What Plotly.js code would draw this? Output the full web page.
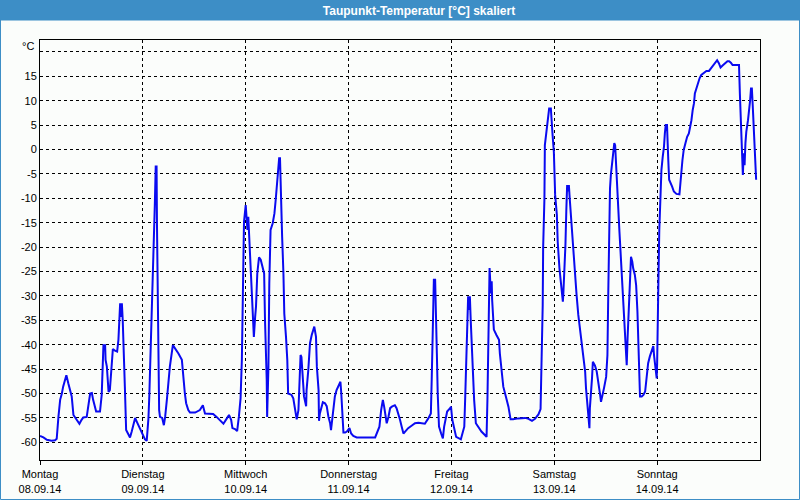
<!DOCTYPE html>
<html>
<head>
<meta charset="utf-8">
<script src="https://cdn.plot.ly/plotly-3.0.1.min.js"></script>
<style>
html,body{margin:0;padding:0;background:#fbfdfb;}
#chart{width:800px;height:500px;}
</style>
</head>
<body>
<div id="chart"></div>
<script>
// hours since Monday 08.09.14 00:00
var hours = [
0,0.8,1.6,2.7,3.5,3.9,4.3,4.7,5.1,5.4,
6.1,6.2,6.6,7.0,7.4,7.8,8.6,9.2,9.7,10.1,
10.9,11.3,11.7,12.1,12.4,13.1,14.0,14.4,14.5,14.8,
15.2,15.3,15.6,15.8,16.0,16.3,16.6,17.0,17.5,18.0,
18.3,18.5,18.7,18.9,19.1,19.3,19.4,19.8,20.1,20.6,
21.0,21.4,21.8,22.2,22.6,23.3,24.0,24.5,24.9,25.3,
25.5,25.8,26.1,26.4,26.7,26.8,27.0,27.2,27.3,27.5,
27.6,27.8,28.0,28.5,28.9,29.2,29.6,29.9,30.3,31.0,
31.5,32.3,33.1,33.4,33.8,34.1,34.6,35.0,36.2,37.3,
38.0,38.5,40.4,41.2,42.0,42.8,43.6,44.1,44.6,44.9,
45.5,46.0,46.4,46.8,47.1,47.3,47.4,47.6,48.0,48.2,
48.4,48.6,48.9,49.2,49.4,49.6,49.9,50.2,50.4,50.7,
51.1,51.5,51.9,52.3,52.5,52.7,52.9,53.0,53.3,53.5,
53.8,54.3,54.7,55.0,55.2,55.4,55.6,55.8,56.0,56.2,
56.5,56.8,57.0,57.4,57.7,57.9,58.7,59.1,59.5,59.9,
60.3,60.5,60.8,61.0,61.3,61.6,62.1,62.2,62.6,63.0,
63.4,63.8,64.0,64.4,64.6,65.0,65.1,65.3,65.7,66.0,
66.5,66.9,67.3,67.7,67.9,68.2,68.4,68.8,69.2,69.8,
70.1,70.3,70.5,70.8,71.2,71.6,72.2,72.6,73.1,73.9,
78.2,78.6,79.2,79.6,80.0,80.3,80.5,80.9,81.3,81.7,
82.1,82.8,83.2,83.6,84.0,84.4,84.8,85.2,85.9,86.7,
87.5,88.3,89.8,90.6,91.2,91.4,91.6,91.8,91.9,92.2,
92.3,92.6,92.8,93.1,93.6,94.0,94.3,94.7,95.0,95.7,
95.9,96.2,96.6,97.1,98.2,98.5,99.0,99.2,99.4,99.7,
99.9,100.1,100.3,100.5,100.7,101.1,101.3,101.7,102.2,103.0,
103.8,104.2,104.4,104.6,104.8,104.9,105.2,105.4,105.5,105.9,
106.5,107.1,107.3,107.7,108.1,108.7,109.3,109.8,110.4,111.6,
112.8,113.2,114.0,114.8,115.5,116.3,116.8,117.1,117.3,117.4,
117.7,117.8,118.2,118.6,118.8,119.2,119.4,119.6,119.9,120.2,
120.6,120.8,121.2,121.5,121.7,122.0,122.1,122.4,122.6,122.8,
123.0,123.2,123.4,123.6,123.8,124.1,124.4,124.8,125.2,125.6,
126.0,126.4,126.8,127.2,127.4,127.7,127.9,128.2,128.3,128.6,
128.8,129.0,129.5,129.9,130.3,130.7,130.9,131.3,131.6,132.1,
132.4,132.6,132.8,133.0,133.2,133.5,133.8,134.0,134.2,134.4,
134.7,134.9,135.2,135.5,135.7,136.0,136.3,136.5,136.7,136.9,
137.1,137.4,137.7,137.9,138.2,138.4,138.8,139.1,139.4,139.6,
139.8,140.0,140.4,140.8,141.2,141.6,141.9,142.3,142.7,143.1,
143.3,143.6,143.9,144.0,144.2,144.3,144.5,144.7,144.8,145.0,
145.3,145.6,145.8,146.0,146.3,146.4,146.6,146.8,147.2,147.5,
147.9,148.5,149.2,149.5,149.7,149.9,150.2,150.6,151.0,151.4,
151.8,152.0,152.3,152.6,152.8,153.1,153.6,153.9,154.3,154.9,
155.5,156.1,156.7,157.2,158.0,158.4,158.8,159.4,159.8,160.4,
160.8,161.2,161.6,162.6,163.1,163.3,163.5,163.7,164.0,164.2,
164.4,164.6,164.8,165.2,165.5,165.7,165.9,166.1,166.3,166.5,
166.7,167.0,167.1
];

// Taupunkt-Temperatur [°C] skaliert
var dewpoint = [
-58.7,-59.0,-59.5,-59.7,-59.6,-59.3,-54.8,-51.3,-50.0,-48.6,
-46.4,-46.4,-47.9,-49.3,-50.6,-54.4,-55.4,-56.2,-55.4,-54.9,
-54.8,-52.7,-50.0,-49.9,-51.3,-53.7,-53.7,-50.3,-46.9,-40.1,
-40.1,-43.1,-44.5,-47.2,-49.7,-49.3,-45.9,-40.9,-41.2,-41.4,
-39.0,-36.3,-31.5,-34.3,-31.5,-34.9,-39.0,-48.6,-57.5,-58.5,
-59.0,-57.8,-56.1,-55.0,-55.8,-57.1,-58.5,-59.4,-59.7,-55.1,
-50.6,-41.8,-34.3,-26.1,-18.5,-11.0,-3.5,-3.5,-15.8,-28.1,
-41.1,-53.4,-54.8,-55.0,-56.5,-54.8,-51.3,-47.9,-44.5,-40.1,
-40.7,-41.8,-43.1,-46.6,-50.0,-52.0,-53.4,-53.9,-53.9,-53.4,
-52.4,-54.1,-54.2,-54.8,-55.4,-56.2,-55.1,-54.4,-55.4,-57.1,
-57.3,-57.7,-54.8,-51.0,-43.1,-27.4,-20.6,-14.8,-11.4,-14.1,
-16.5,-13.8,-19.9,-22.6,-29.5,-34.3,-38.4,-34.3,-32.2,-25.4,
-22.1,-22.6,-24.0,-25.4,-34.9,-39.7,-47.2,-54.8,-44.5,-27.4,
-16.5,-15.1,-13.1,-10.3,-8.3,-6.2,-3.5,-1.8,-1.8,-9.7,
-17.9,-25.4,-33.6,-38.4,-43.1,-50.0,-50.3,-51.0,-53.0,-55.3,
-53.4,-48.6,-42.1,-42.5,-46.6,-50.6,-52.6,-49.3,-45.2,-39.7,
-38.0,-36.6,-36.3,-38.4,-44.5,-49.3,-55.6,-54.1,-52.7,-51.8,
-52.0,-52.6,-54.8,-56.1,-57.5,-55.4,-53.4,-50.6,-49.3,-47.9,
-47.6,-50.0,-54.1,-58.0,-58.0,-57.8,-57.1,-58.2,-58.7,-59.0,
-59.0,-58.2,-56.8,-53.4,-51.3,-52.7,-54.1,-56.1,-54.8,-53.0,
-52.7,-52.4,-53.0,-54.1,-55.4,-56.8,-58.2,-57.8,-57.1,-56.6,
-56.1,-56.0,-56.2,-55.1,-54.1,-47.2,-40.1,-33.2,-26.7,-26.7,
-32.9,-41.8,-50.0,-56.8,-58.2,-59.2,-56.8,-54.8,-53.7,-53.0,
-52.7,-55.4,-56.8,-58.9,-59.4,-58.2,-56.8,-51.3,-45.2,-38.4,
-30.1,-32.9,-30.1,-34.9,-39.7,-46.6,-51.3,-56.1,-56.8,-57.8,
-58.5,-58.9,-51.3,-41.8,-32.9,-24.3,-29.5,-27.0,-30.8,-36.9,
-38.0,-39.0,-41.8,-45.2,-48.6,-50.6,-52.7,-55.3,-55.3,-55.1,
-55.0,-55.0,-55.2,-55.6,-55.2,-54.3,-53.2,-42.8,-31.9,-20.2,
-10.0,0.9,4.3,6.4,8.4,8.4,6.4,3.0,-0.5,-9.3,
-13.4,-18.9,-24.3,-27.1,-29.1,-31.2,-29.8,-25.0,-19.6,-12.7,
-7.3,-8.6,-7.3,-10.0,-12.7,-16.8,-20.2,-25.0,-29.8,-33.9,
-36.6,-40.1,-42.8,-45.5,-48.9,-51.7,-54.8,-57.1,-53.0,-50.3,
-46.9,-43.5,-44.3,-45.5,-47.6,-50.3,-51.7,-50.3,-48.9,-46.6,
-42.1,-29.1,-17.5,-8.0,-5.2,-2.5,-1.1,1.3,0.9,-3.2,
-8.0,-12.1,-16.8,-21.6,-25.0,-28.4,-32.5,-36.0,-41.4,-44.2,
-38.7,-32.5,-26.4,-22.0,-23.0,-24.3,-25.7,-27.8,-33.2,-39.4,
-44.8,-50.6,-50.6,-50.3,-49.6,-46.6,-43.8,-42.4,-41.1,-40.3,
-42.4,-45.2,-46.9,-43.8,-36.3,-26.7,-16.5,-10.3,-6.2,-4.2,
-1.5,0.6,3.3,5.0,5.0,1.3,-2.2,-6.2,-6.9,-7.6,
-8.6,-9.1,-9.2,-6.9,-4.2,-2.2,-0.1,1.3,2.6,3.3,
4.7,6.0,8.1,9.5,11.5,12.5,13.6,14.6,15.3,15.7,
16.1,16.1,16.8,17.5,18.3,17.7,16.8,17.3,17.7,18.1,
18.1,17.8,17.3,17.3,17.3,11.5,6.0,0.2,-5.2,-0.8,
-3.2,1.3,3.6,6.0,8.1,10.1,12.5,12.5,9.1,5.4,
1.3,-2.2,-6.2
];

var dayTicks = [0, 24, 48, 72, 96, 120, 144];
var dayNames = ["Montag", "Dienstag", "Mittwoch", "Donnerstag", "Freitag", "Samstag", "Sonntag"];
var dayDates = ["08.09.14", "09.09.14", "10.09.14", "11.09.14", "12.09.14", "13.09.14", "14.09.14"];
var yTicks = [-60, -55, -50, -45, -40, -35, -30, -25, -20, -15, -10, -5, 0, 5, 10, 15, 20];
var yTickText = yTicks.map(function (v) { return v === 20 ? "" : String(v); });
var unitLabel = "°C";
var titleText = "Taupunkt-Temperatur [°C] skaliert";

var dayLabels = dayNames.map(function (n, i) { return n + "<br>" + dayDates[i]; });

var FONT = "Liberation Sans, Arial, sans-serif";
var W = 800, H = 500, ML = 40, MR = 40, MT = 40, MB = 40;
var PW = W - ML - MR, PH = H - MT - MB;
function px(xp) { return (xp - ML) / PW; }
function py(yp) { return (H - MB - yp) / PH; }

var trace = {
  x: hours,
  y: dewpoint,
  type: "scatter",
  mode: "lines",
  line: { color: "#0a0af0", width: 2 },
  hoverinfo: "x+y",
  showlegend: false
};

var layout = {
  width: W,
  height: H,
  margin: { l: ML, r: MR, t: MT, b: MB, pad: 0 },
  paper_bgcolor: "#fbfdfb",
  plot_bgcolor: "#fbfdfb",
  font: { family: FONT, size: 11, color: "#000" },
  title: {
    text: titleText,
    font: { family: FONT, size: 12, color: "#ffffff", weight: "bold" },
    x: (419) / W, xref: "container", xanchor: "center",
    y: 1 - 10.5 / H, yref: "container", yanchor: "middle"
  },
  xaxis: {
    range: [0, 168],
    tickmode: "array",
    tickvals: dayTicks,
    ticktext: dayLabels,
    showgrid: true,
    gridcolor: "#000",
    gridwidth: 1,
    griddash: "3px,3px",
    ticks: "outside",
    ticklen: 4,
    tickcolor: "#000",
    tickwidth: 1,
    showline: true,
    linecolor: "#000",
    linewidth: 1,
    mirror: true,
    zeroline: false,
    fixedrange: true,
    tickfont: { family: FONT, size: 11, color: "#000" }
  },
  yaxis: {
    range: [-63.63, 22.44],
    tickmode: "array",
    tickvals: yTicks,
    ticktext: yTickText,
    showgrid: true,
    gridcolor: "#000",
    gridwidth: 1,
    griddash: "3px,3px",
    ticks: "",
    showline: true,
    linecolor: "#000",
    linewidth: 1,
    mirror: true,
    zeroline: false,
    fixedrange: true,
    tickfont: { family: FONT, size: 11, color: "#000" }
  },
  shapes: [
    { type: "rect", xref: "paper", yref: "paper", layer: "below",
      x0: px(0), x1: px(W), y0: py(20), y1: py(0),
      fillcolor: "#3d8ec6", line: { width: 0 } },
    { type: "rect", xref: "paper", yref: "paper", layer: "above",
      x0: px(0.5), x1: px(W - 0.5), y0: py(H - 0.5), y1: py(20),
      fillcolor: "rgba(0,0,0,0)", line: { width: 1, color: "#3d8ec6" } }
  ],
  annotations: [
    { text: unitLabel, xref: "paper", yref: "paper",
      x: px(36), y: py(46), xanchor: "right", yanchor: "middle",
      showarrow: false, font: { family: FONT, size: 11, color: "#000" } }
  ]
};

Plotly.newPlot("chart", [trace], layout, { displayModeBar: false, staticPlot: true });
</script>
</body>
</html>
